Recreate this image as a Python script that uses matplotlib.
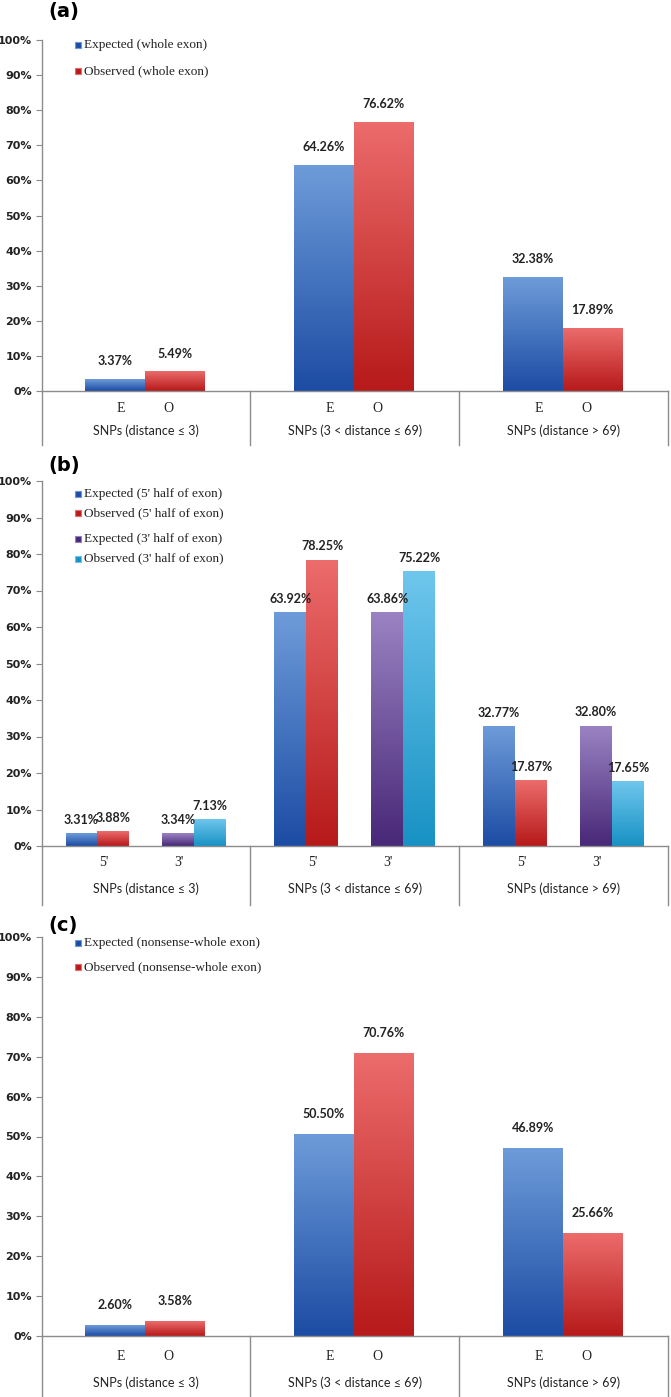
import numpy as np
import matplotlib.pyplot as plt
from matplotlib.colors import LinearSegmentedColormap

W, H, DPI = 671, 1397, 100

groups = ["SNPs (distance \u2264 3)", "SNPs (3 < distance \u2264 69)", "SNPs (distance > 69)"]
yticks = list(range(0, 101, 10))

# panel (a): whole exon
a_expected = [3.37, 64.26, 32.38]
a_observed = [5.49, 76.62, 17.89]
# panel (b): 5' half / 3' half of exon
b_exp5 = [3.31, 63.92, 32.77]
b_obs5 = [3.88, 78.25, 17.87]
b_exp3 = [3.34, 63.86, 32.80]
b_obs3 = [7.13, 75.22, 17.65]
# panel (c): nonsense, whole exon
c_expected = [2.60, 50.50, 46.89]
c_observed = [3.58, 70.76, 25.66]

# (top, bottom) colours of the bar gradients
BLUE = ("#6d9bd9", "#1d4ca4")
RED = ("#ec6b6b", "#b71a1a")
PURPLE = ("#9a82c2", "#482878")
CYAN = ("#6ec6ec", "#1892c4")

GRAY = "#8c8c8c"
NARROW = ["Lato", "DejaVu Sans"]
SERIF = ["Liberation Serif", "DejaVu Serif"]

fig = plt.figure(figsize=(W / DPI, H / DPI), dpi=DPI)


def make_axes(top_px, bottom_px):
    ax = fig.add_axes([41.5 / W, 1 - bottom_px / H, (668 - 41.5) / W, (bottom_px - top_px) / H])
    ax.set_xlim(0, 3)
    ax.set_ylim(0, 100)
    for s in ("top", "right"):
        ax.spines[s].set_visible(False)
    for s in ("left", "bottom"):
        ax.spines[s].set_color(GRAY)
        ax.spines[s].set_linewidth(1.0)
    ax.set_yticks(yticks)
    ax.set_yticklabels([f"{t}%" for t in yticks], fontsize=8, fontweight="bold",
                       color="#222222")
    ax.tick_params(axis="y", length=4, color=GRAY, pad=3)
    ax.set_xticks([])
    ax.patch.set_alpha(0)
    return ax


def grad_bar(ax, x0, w, val, cols, label_off):
    rect = ax.bar(x0, val, w, align="edge", color="none", edgecolor="none")[0]
    cmap = LinearSegmentedColormap.from_list("g", [cols[1], cols[0]])
    grad = np.linspace(0, 1, 64).reshape(-1, 1)
    ax.imshow(grad, extent=[rect.get_x(), rect.get_x() + rect.get_width(), 0, rect.get_height()],
              origin="lower", aspect="auto", cmap=cmap, zorder=2, interpolation="bilinear")
    ax.annotate(f"{val:.2f}%", (rect.get_x() + rect.get_width() / 2, val),
                xytext=(0, label_off), textcoords="offset points", ha="center", va="center",
                fontsize=9, fontweight="bold", family=NARROW, color="#222222", zorder=3)


def category_axis(ax, sub_labels, sub_pos, sub_px, cat_px, sep_px, height_px):
    tr = ax.get_xaxis_transform()
    for g in range(4):
        ax.plot([g, g], [0, -sep_px / height_px], transform=tr, color=GRAY, lw=1.0, clip_on=False)
    for g, name in enumerate(groups):
        for lab, p in zip(sub_labels, sub_pos):
            ax.annotate(lab, (g + p, 0), xycoords=tr, xytext=(0, -sub_px * 0.72),
                        textcoords="offset points", ha="center", va="center",
                        fontsize=10, family=SERIF, color="#222222")
        ax.annotate(name, (g + 0.5, 0), xycoords=tr, xytext=(0, -cat_px * 0.72),
                    textcoords="offset points", ha="center", va="center",
                    fontsize=9, family=NARROW, color="#222222")


def legend(ax, entries):
    tr = ax.get_yaxis_transform()
    for lab, cols, y in entries:
        ax.scatter([0.058], [y], transform=tr, marker="s", s=22, color=cols[1],
                   edgecolors=cols[0], linewidths=0.8, clip_on=False, zorder=4)
        ax.text(0.068, y, lab, transform=tr, va="center", ha="left", fontsize=9.5,
                family=SERIF, color="#222222")


def panel_letter(txt, y_px):
    fig.text(48 / W, 1 - y_px / H, txt, fontsize=14, fontweight="bold",
             ha="left", va="center", family="DejaVu Sans")


# ---- (a)
ax_a = make_axes(40, 391)
for g in range(3):
    grad_bar(ax_a, g + 0.21, 0.285, a_expected[g], BLUE, 13)
    grad_bar(ax_a, g + 0.495, 0.285, a_observed[g], RED, 13)
ax_a.set_xlim(0, 3)
ax_a.set_ylim(0, 100)
category_axis(ax_a, ["E", "O"], [0.38, 0.61], 17, 40, 54, 351)
legend(ax_a, [("Expected (whole exon)", BLUE, 98.7), ("Observed (whole exon)", RED, 91.2)])
panel_letter("(a)", 12)

# ---- (b)
ax_b = make_axes(481, 846)
for g in range(3):
    grad_bar(ax_b, g + 0.115, 0.153, b_exp5[g], BLUE, 10)
    grad_bar(ax_b, g + 0.268, 0.153, b_obs5[g], RED, 10)
    grad_bar(ax_b, g + 0.579, 0.153, b_exp3[g], PURPLE, 10)
    grad_bar(ax_b, g + 0.732, 0.153, b_obs3[g], CYAN, 10)
ax_b.set_xlim(0, 3)
ax_b.set_ylim(0, 100)
category_axis(ax_b, ["5'", "3'"], [0.30, 0.66], 16, 43, 59, 365)
legend(ax_b, [("Expected (5' half of exon)", BLUE, 96.5),
              ("Observed (5' half of exon)", RED, 91.1),
              ("Expected (3' half of exon)", PURPLE, 84.0),
              ("Observed (3' half of exon)", CYAN, 78.7)])
panel_letter("(b)", 465)

# ---- (c)
ax_c = make_axes(937, 1336)
for g in range(3):
    grad_bar(ax_c, g + 0.21, 0.285, c_expected[g], BLUE, 15)
    grad_bar(ax_c, g + 0.495, 0.285, c_observed[g], RED, 15)
ax_c.set_xlim(0, 3)
ax_c.set_ylim(0, 100)
category_axis(ax_c, ["E", "O"], [0.38, 0.61], 21, 47, 61, 399)
legend(ax_c, [("Expected (nonsense-whole exon)", BLUE, 98.5),
              ("Observed (nonsense-whole exon)", RED, 92.5)])
panel_letter("(c)", 925)

fig.savefig("out.png", dpi=DPI)
